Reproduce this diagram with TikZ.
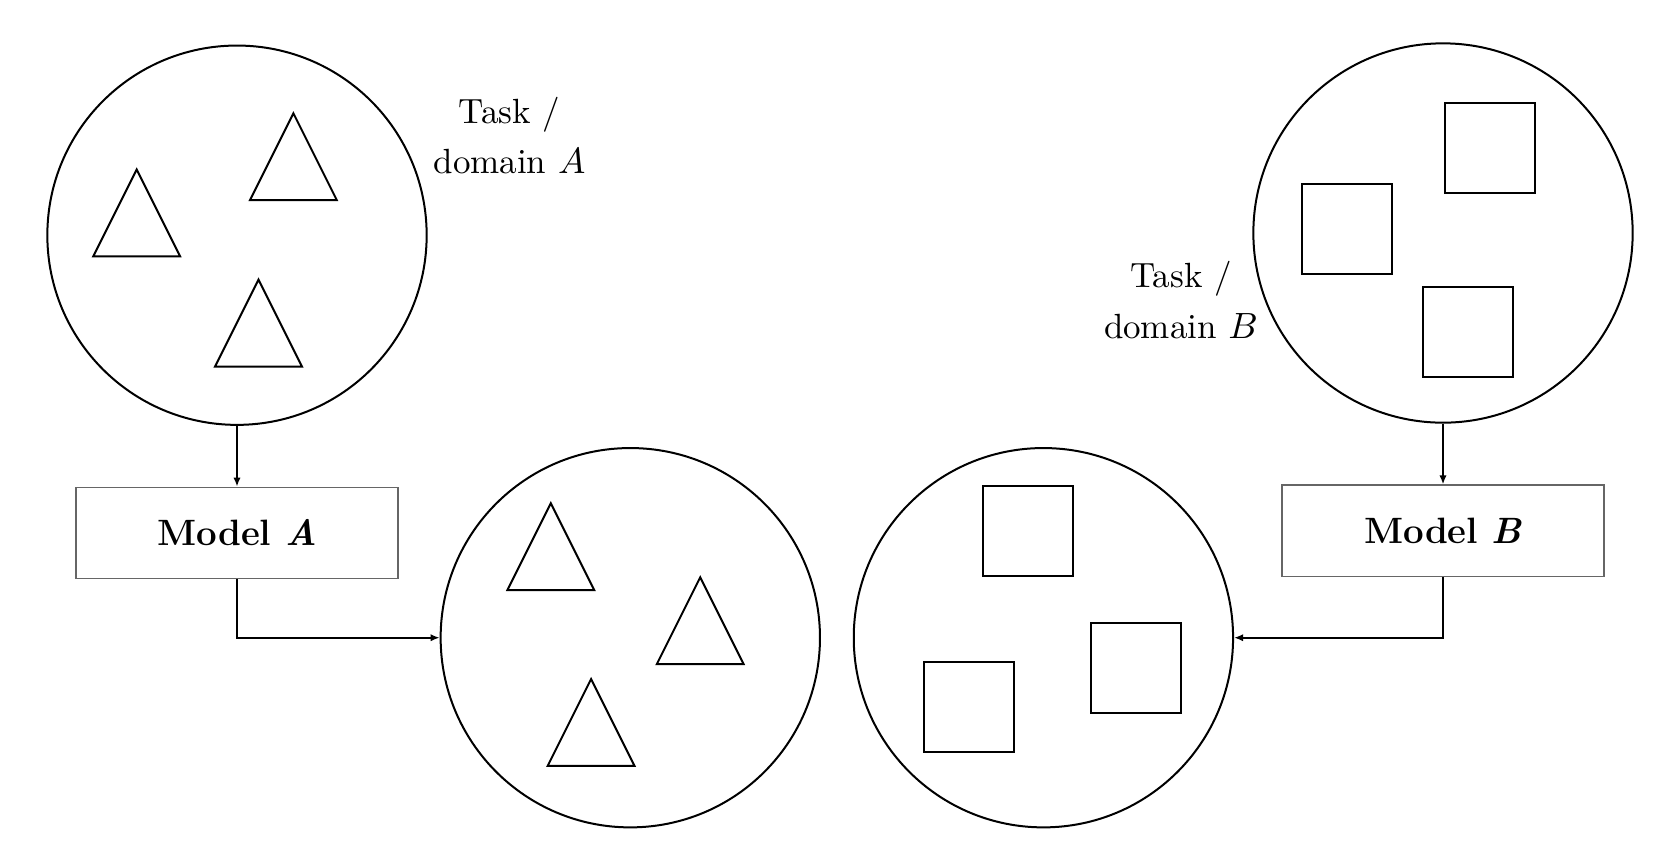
\documentclass[tikz,border=0pt]{standalone}
\usetikzlibrary{arrows.meta}
\tikzset{
  outline/.style={line width=0.6pt},
  ring/.style={circle, draw, line width=0.6pt, minimum size=113.8pt, inner sep=0pt},
  modelbox/.style={rectangle, draw=black!60, line width=0.35pt, minimum width=96.6pt, minimum height=27.5pt, inner sep=0pt, font=\fontsize{11}{13}\selectfont\bfseries},
  tasklabel/.style={align=center, inner sep=0pt, font=\fontsize{10.5}{15.2}\selectfont},
  conn/.style={line width=0.6pt, -{Latex[length=2.7pt,width=2.2pt]}},
  tri/.pic={\draw[outline] (0,0) -- (-43.4,86.8) -- (43.4,86.8) -- cycle;},
  sq/.pic={\draw[outline] (0,0) rectangle (90,90);}
}
\begin{document}
\begin{tikzpicture}[x=0.3pt,y=-0.3pt]
\useasboundingbox (0,0) rectangle (1661,852);
% circles
\node[ring] (c1) at (237,235.2) {};
\node[ring] (c2) at (1443,233) {};
\node[ring] (c3) at (630.3,637.7) {};
\node[ring] (c4) at (1043.4,637.7) {};
% labels
\node[tasklabel] (la) at (509.5,135.6) {Task /\\domain $A$};
\node[tasklabel] (lb) at (1181,299.8) {Task /\\domain $B$};
% model boxes
\node[modelbox] (ma) at (237,533) {Model {\itshape A}};
\node[modelbox] (mb) at (1443,530.8) {Model {\itshape B}};
% triangles
\pic at (136.7,169.5) {tri};
\pic at (293.4,113.3) {tri};
\pic at (258.5,279.7) {tri};
\pic at (550.8,503.2) {tri};
\pic at (700.2,577.3) {tri};
\pic at (591.1,679) {tri};
% squares
\pic at (1444.9,102.8) {sq};
\pic at (1301.9,184.3) {sq};
\pic at (1422.6,287.1) {sq};
\pic at (983,486.2) {sq};
\pic at (1091.1,622.9) {sq};
\pic at (923.7,662) {sq};
% connectors
\draw[conn] (c1.south) -- (ma.north);
\draw[conn] (ma.south) |- (c3.west);
\draw[conn] (c2.south) -- (mb.north);
\draw[conn] (mb.south) |- (c4.east);
\end{tikzpicture}
\end{document}
